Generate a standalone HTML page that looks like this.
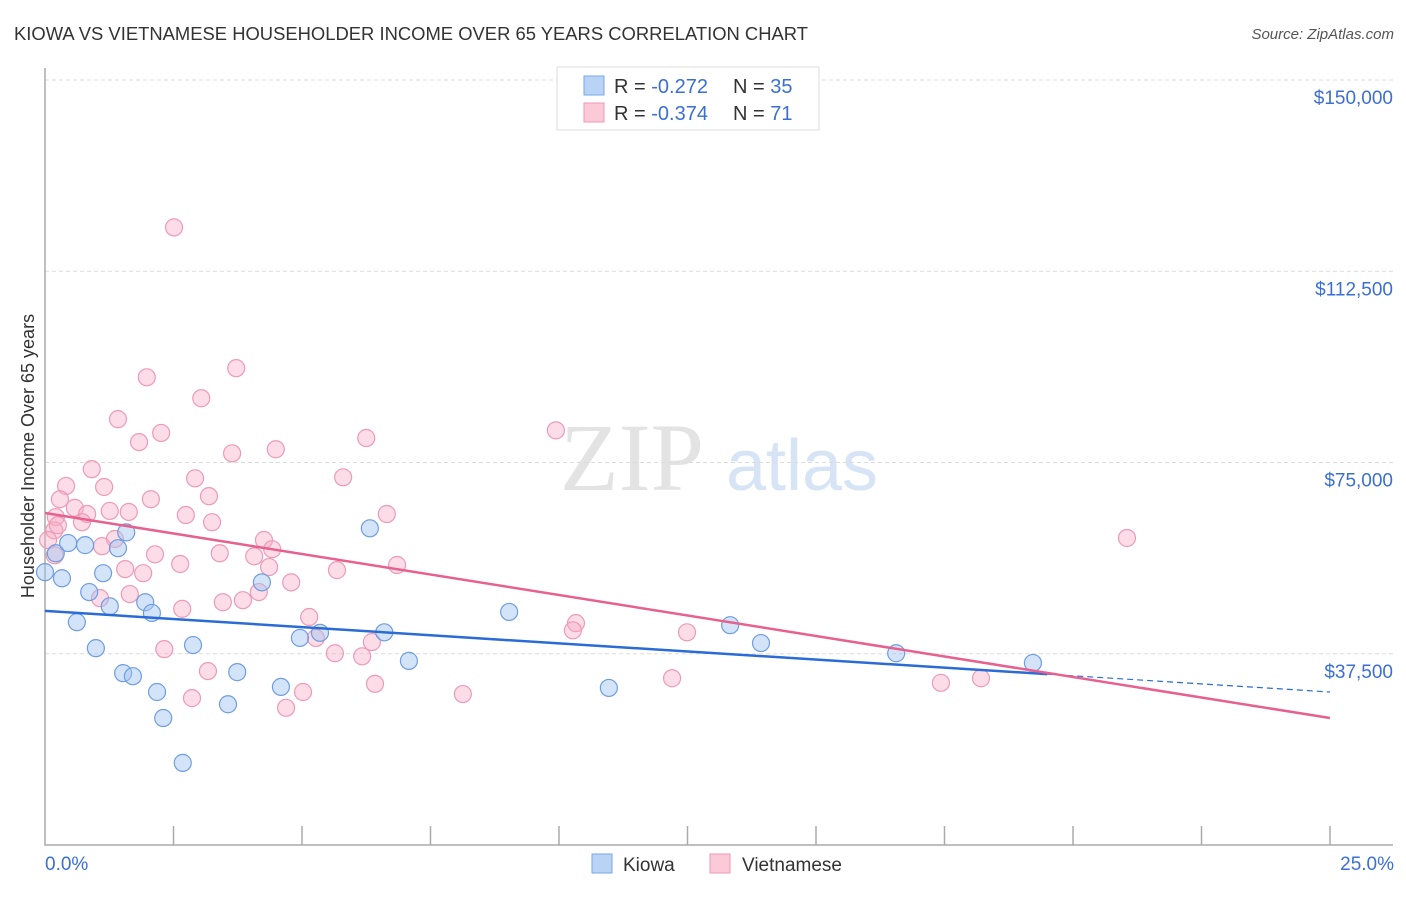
<!DOCTYPE html>
<html><head><meta charset="utf-8"><style>
body{margin:0;background:#fff;}
svg text{font-family:"Liberation Sans",sans-serif;}
</style></head><body>
<svg id="chart" width="1406" height="892" xmlns="http://www.w3.org/2000/svg">
<text x="14" y="40" font-size="18" fill="#333" textLength="794" lengthAdjust="spacingAndGlyphs">KIOWA VS VIETNAMESE HOUSEHOLDER INCOME OVER 65 YEARS CORRELATION CHART</text>
<text x="1394" y="39" font-size="15" fill="#555" font-style="italic" text-anchor="end">Source: ZipAtlas.com</text>
<g>
<text x="632" y="490" font-size="96" fill="#e3e3e3" text-anchor="middle" style="font-family:'Liberation Serif',serif">ZIP</text>
<text x="802" y="490" font-size="72" fill="#d6e4f5" text-anchor="middle">atlas</text>
</g>
<g id="grid"></g>
<g id="axes"></g>
<g id="marks"></g>
<g id="trends"></g>
<text transform="translate(34,456) rotate(-90)" font-size="18" fill="#333" text-anchor="middle">Householder Income Over 65 years</text>
<text x="45" y="870" font-size="19" fill="#3b6fd4">0.0%</text>
<text x="1394" y="870" font-size="19" fill="#3b6fd4" text-anchor="end">25.0%</text>
<g>
<rect x="557" y="67" width="262" height="63" fill="#fff" stroke="#ddd"/>
<rect x="584" y="76" width="20" height="19" fill="#b9d3f5" stroke="#7aa6e6"/>
<rect x="584" y="103" width="20" height="19" fill="#fcc9d8" stroke="#ee9ab5"/>
<text x="614" y="93" font-size="20" fill="#333">R = <tspan fill="#3b6fd4">-0.272</tspan></text>
<text x="733" y="93" font-size="20" fill="#333">N = <tspan fill="#3b6fd4">35</tspan></text>
<text x="614" y="120" font-size="20" fill="#333">R = <tspan fill="#3b6fd4">-0.374</tspan></text>
<text x="733" y="120" font-size="20" fill="#333">N = <tspan fill="#3b6fd4"> 71</tspan></text>
</g>
<g>
<rect x="592" y="854" width="20" height="19" fill="#b9d3f5" stroke="#7aa6e6"/>
<text x="623" y="871" font-size="19" fill="#333">Kiowa</text>
<rect x="710" y="854" width="20" height="19" fill="#fcc9d8" stroke="#ee9ab5"/>
<text x="742" y="871" font-size="19" fill="#333">Vietnamese</text>
</g>
</svg>
<script>
const yTicks=[37500,75000,112500,150000];
const yTickLabels=["$37,500","$75,000","$112,500","$150,000"];
const kiowaX=[0.00,0.33,0.21,0.45,0.62,0.78,0.86,0.99,1.13,1.26,1.42,1.52,1.58,1.71,1.95,2.08,2.18,2.30,2.68,2.88,3.56,3.74,4.22,4.59,4.96,5.35,6.32,6.60,7.08,9.03,10.97,13.33,13.93,16.56,19.22];
const kiowaY=[53500,52300,57200,59200,43700,58800,49600,38600,53300,46800,58200,33700,61300,33100,47600,45500,30000,24900,16100,39200,27600,33900,51500,31000,40600,41600,62100,41700,36100,45700,30800,43100,39600,37600,35700];
const vietX=[2.51,3.72,1.98,3.04,1.42,2.26,1.83,9.94,6.25,3.64,4.49,0.91,5.80,2.92,1.15,0.41,3.19,2.06,0.29,0.58,2.74,1.63,1.26,0.82,0.21,0.72,6.65,3.25,0.18,1.36,4.26,1.11,4.42,3.40,2.14,4.07,2.63,5.68,1.56,4.36,6.85,1.91,4.79,1.65,1.07,4.16,3.85,3.46,2.67,5.14,10.33,10.27,12.49,5.27,6.36,5.64,6.17,2.32,3.17,6.42,8.13,5.02,2.86,4.69,12.20,17.43,18.21,21.05,0.19,0.06,0.25];
const vietY=[121100,93500,91700,87600,83500,80800,79000,81300,79800,76800,77600,73700,72100,71900,70200,70400,68400,67800,67800,66100,64700,65300,65500,64900,64300,63300,64900,63300,61700,60000,59800,58600,58000,57200,57000,56600,55100,53900,54100,54500,54900,53300,51500,49200,48400,49600,48000,47600,46300,44700,43500,42100,41700,40600,39800,37600,37000,38400,34100,31600,29600,30000,28800,26900,32700,31800,32700,60200,56800,59800,62700];
const kiowaTrend=[45900,30000];
const vietTrend=[65100,24900];
const kiowaSolidEnd=19.5;

const NS="http://www.w3.org/2000/svg";
const X0=45,X1=1330,Y0=845,YTOP=80;
const sx=v=>X0+(v/25)*(X1-X0);
const sy=v=>Y0-(v/150000)*(Y0-YTOP);
function mk(tag,attrs,parent){const e=document.createElementNS(NS,tag);for(const k in attrs)e.setAttribute(k,attrs[k]);parent.appendChild(e);return e;}
const grid=document.getElementById('grid'),axes=document.getElementById('axes'),marks=document.getElementById('marks'),trends=document.getElementById('trends');
yTicks.forEach((t,i)=>{
 const l=mk('line',{x1:X0,x2:1393,y1:sy(t),y2:sy(t),stroke:'#dcdcdc','stroke-dasharray':'4,3'},grid);
 
 
 const tx=mk('text',{x:1393,y:sy(t)+24,'font-size':19,fill:'#3b6fd4','text-anchor':'end'},grid);
 tx.textContent=yTickLabels[i];
 
 
});
const ax=mk('path',{d:`M${X0} 68 V${Y0} H1393`,fill:'none',stroke:'#aaa','stroke-width':1.5},axes);


for(let i=1;i<=10;i++){
 const t=mk('line',{x1:sx(i*2.5),x2:sx(i*2.5),y1:826,y2:Y0,stroke:'#aaa','stroke-width':1.5},axes);
 
 
}
function pts(xs,ys,fill,stroke,name){
 xs.forEach((x,i)=>{
  const c=mk('circle',{cx:sx(x),cy:sy(ys[i]),r:8.5,fill:fill,stroke:stroke,'stroke-width':1.2},marks);
  
  
 });
}
pts(vietX,vietY,'rgba(248,170,196,0.4)','#ee9ab5','vietnamese-point');
pts(kiowaX,kiowaY,'rgba(160,196,240,0.45)','#6f9de3','kiowa-point');
const ky=x=>kiowaTrend[0]+(kiowaTrend[1]-kiowaTrend[0])*x/25;
let l1=mk('line',{x1:sx(0),y1:sy(ky(0)),x2:sx(kiowaSolidEnd),y2:sy(ky(kiowaSolidEnd)),stroke:'#2a6bd6','stroke-width':2.5},trends);


let l2=mk('line',{x1:sx(kiowaSolidEnd),y1:sy(ky(kiowaSolidEnd)),x2:sx(25),y2:sy(ky(25)),stroke:'#2a6bd6','stroke-width':1.2,'stroke-dasharray':'6,4'},trends);


let l3=mk('line',{x1:sx(0),y1:sy(vietTrend[0]),x2:sx(25),y2:sy(vietTrend[1]),stroke:'#e8608d','stroke-width':2.5},trends);


</script>
</body></html>
